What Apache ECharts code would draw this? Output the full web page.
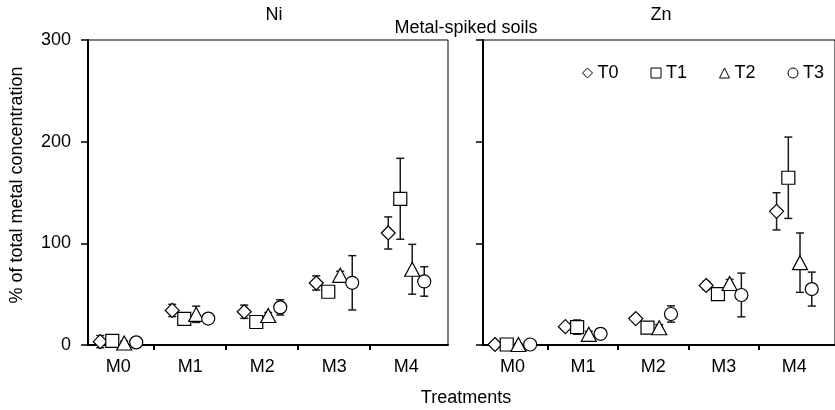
<!DOCTYPE html>
<html>
<head>
<meta charset="utf-8">
<script src="https://cdn.jsdelivr.net/npm/echarts@6/dist/echarts.min.js"></script>
<style>
  html, body { margin: 0; padding: 0; background: #fff; }
  #chart { width: 835px; height: 410px; }
</style>
</head>
<body>
<div id="chart"></div>
<script>
// Treatments and sampling times
const categories = ['M0', 'M1', 'M2', 'M3', 'M4'];
const times = ['T0', 'T1', 'T2', 'T3'];
const yTicks = [0, 100, 200, 300];

// Ni: mean and error (± half-range) per treatment
const niT0 = [3.3, 34, 32.7, 61, 110.2];
const niT0Err = [6, 6, 6.5, 7, 15.8];
const niT1 = [4, 25.6, 22.6, 52.4, 143.8];
const niT1Err = [2, 6, 3, 3, 39.8];
const niT2 = [2, 30.2, 29, 68.5, 74.5];
const niT2Err = [2, 8, 3, 4, 24.5];
const niT3 = [2.6, 26, 37, 61.2, 62.5];
const niT3Err = [1, 2, 7.5, 26.7, 14.5];

// Zn: mean and error per treatment
const znT0 = [0.5, 18, 26, 58.5, 131.5];
const znT0Err = [1, 3, 3, 4, 18.3];
const znT1 = [0.5, 17.6, 17, 50, 164.5];
const znT1Err = [1, 7, 3, 4, 40];
const znT2 = [0.5, 10.5, 17, 60.5, 81];
const znT2Err = [1, 3, 3, 4, 29.2];
const znT3 = [0.5, 11, 30.5, 49.2, 55];
const znT3Err = [1, 3, 8, 21.5, 16.7];

const FONT = "'Liberation Sans', Arial, sans-serif";
const symbols = ['diamond', 'rect', 'triangle', 'circle'];
const symbolSizes = [14, 13, [15, 14], 13];
const offsets = [-0.25, -0.083, 0.083, 0.25];   // dodge within a treatment

const panels = [
  { means: [niT0, niT1, niT2, niT3], errs: [niT0Err, niT1Err, niT2Err, niT3Err] },
  { means: [znT0, znT1, znT2, znT3], errs: [znT0Err, znT1Err, znT2Err, znT3Err] }
];

const chart = echarts.init(document.getElementById('chart'), null, { renderer: 'canvas' });

const grids = [
  { left: 88, top: 40, width: 360, height: 305 },
  { left: 483, top: 40, width: 360, height: 305 }
].map(g => Object.assign(g, { show: true, borderColor: '#000', borderWidth: 1, backgroundColor: 'transparent' }));

const xAxes = [0, 1].map(i => ({
  type: 'value', gridIndex: i, min: 0.58, max: 5.58,
  axisLine: { show: true, onZero: false, lineStyle: { color: '#000', width: 2 } },
  axisTick: {
    show: true, inside: false, length: 5,
    customValues: categories.slice(1).map((_, k) => k + 1.5),
    lineStyle: { color: '#000', width: 2 }
  },
  axisLabel: {
    customValues: categories.map((_, k) => k + 1),
    formatter: v => categories[Math.round(v) - 1] || '',
    color: '#000', fontSize: 18, fontFamily: FONT, margin: 13
  },
  splitLine: { show: false }
}));

const yAxes = [0, 1].map(i => ({
  type: 'value', gridIndex: i, min: yTicks[0], max: yTicks[yTicks.length - 1], interval: 100,
  axisLine: { show: true, onZero: false, lineStyle: { color: '#000', width: 2 } },
  axisTick: { show: true, inside: false, length: 7, lineStyle: { color: '#000', width: 1.5 } },
  axisLabel: { show: i === 0, color: '#000', fontSize: 18, fontFamily: FONT, margin: 17 },
  splitLine: { show: false }
}));

function errorBar(params, api) {
  const x = api.value(0);
  const lo = api.coord([x, api.value(1)]);
  const hi = api.coord([x, api.value(2)]);
  const hw = 4;
  const style = { stroke: '#1a1a1a', lineWidth: 1.5 };
  return {
    type: 'group',
    children: [
      { type: 'line', shape: { x1: lo[0], y1: lo[1], x2: hi[0], y2: hi[1] }, style },
      { type: 'line', shape: { x1: lo[0] - hw, y1: lo[1], x2: lo[0] + hw, y2: lo[1] }, style },
      { type: 'line', shape: { x1: hi[0] - hw, y1: hi[1], x2: hi[0] + hw, y2: hi[1] }, style }
    ]
  };
}

const series = [];
panels.forEach((panel, gi) => {
  times.forEach((t, ti) => {
    const means = panel.means[ti];
    const errs = panel.errs[ti];
    series.push({
      type: 'custom', name: t, xAxisIndex: gi, yAxisIndex: gi,
      renderItem: errorBar, clip: false, z: 2, silent: true,
      encode: { x: 0, y: [1, 2] },
      data: means.map((m, k) => [k + 1 + offsets[ti], m - errs[k], m + errs[k]])
    });
  });
  times.forEach((t, ti) => {
    series.push({
      type: 'scatter', name: t, xAxisIndex: gi, yAxisIndex: gi,
      symbol: symbols[ti], symbolSize: symbolSizes[ti], clip: false, z: 3,
      itemStyle: { color: '#fff', borderColor: '#000', borderWidth: 1.2, opacity: 1 },
      data: panel.means[ti].map((m, k) => [k + 1 + offsets[ti], m])
    });
  });
});

chart.setOption({
  animation: false,
  backgroundColor: '#fff',
  textStyle: { fontFamily: FONT },
  grid: grids,
  xAxis: xAxes,
  yAxis: yAxes,
  legend: {
    data: times.map((t, ti) => ({ name: t, icon: symbols[ti] })),
    left: 577, top: 59,
    itemWidth: 10, itemHeight: 10, itemGap: 32,
    textStyle: { color: '#000', fontSize: 18, fontFamily: FONT },
    itemStyle: { color: '#fff', borderColor: '#000', borderWidth: 1 },
    selectedMode: false
  },
  graphic: [
    { type: 'text', x: 274, y: 15, style: { text: 'Ni', font: '18px ' + FONT, fill: '#000', align: 'center', verticalAlign: 'middle' } },
    { type: 'text', x: 661, y: 15, style: { text: 'Zn', font: '18px ' + FONT, fill: '#000', align: 'center', verticalAlign: 'middle' } },
    { type: 'text', x: 466, y: 28, style: { text: 'Metal-spiked soils', font: '18px ' + FONT, fill: '#000', align: 'center', verticalAlign: 'middle' } },
    { type: 'text', x: 466, y: 398, style: { text: 'Treatments', font: '18px ' + FONT, fill: '#000', align: 'center', verticalAlign: 'middle' } },
    { type: 'text', x: 17, y: 185, rotation: Math.PI / 2, style: { text: '% of total metal concentration', font: '18px ' + FONT, fill: '#000', align: 'center', verticalAlign: 'middle' } }
  ],
  series
});
</script>
</body>
</html>
